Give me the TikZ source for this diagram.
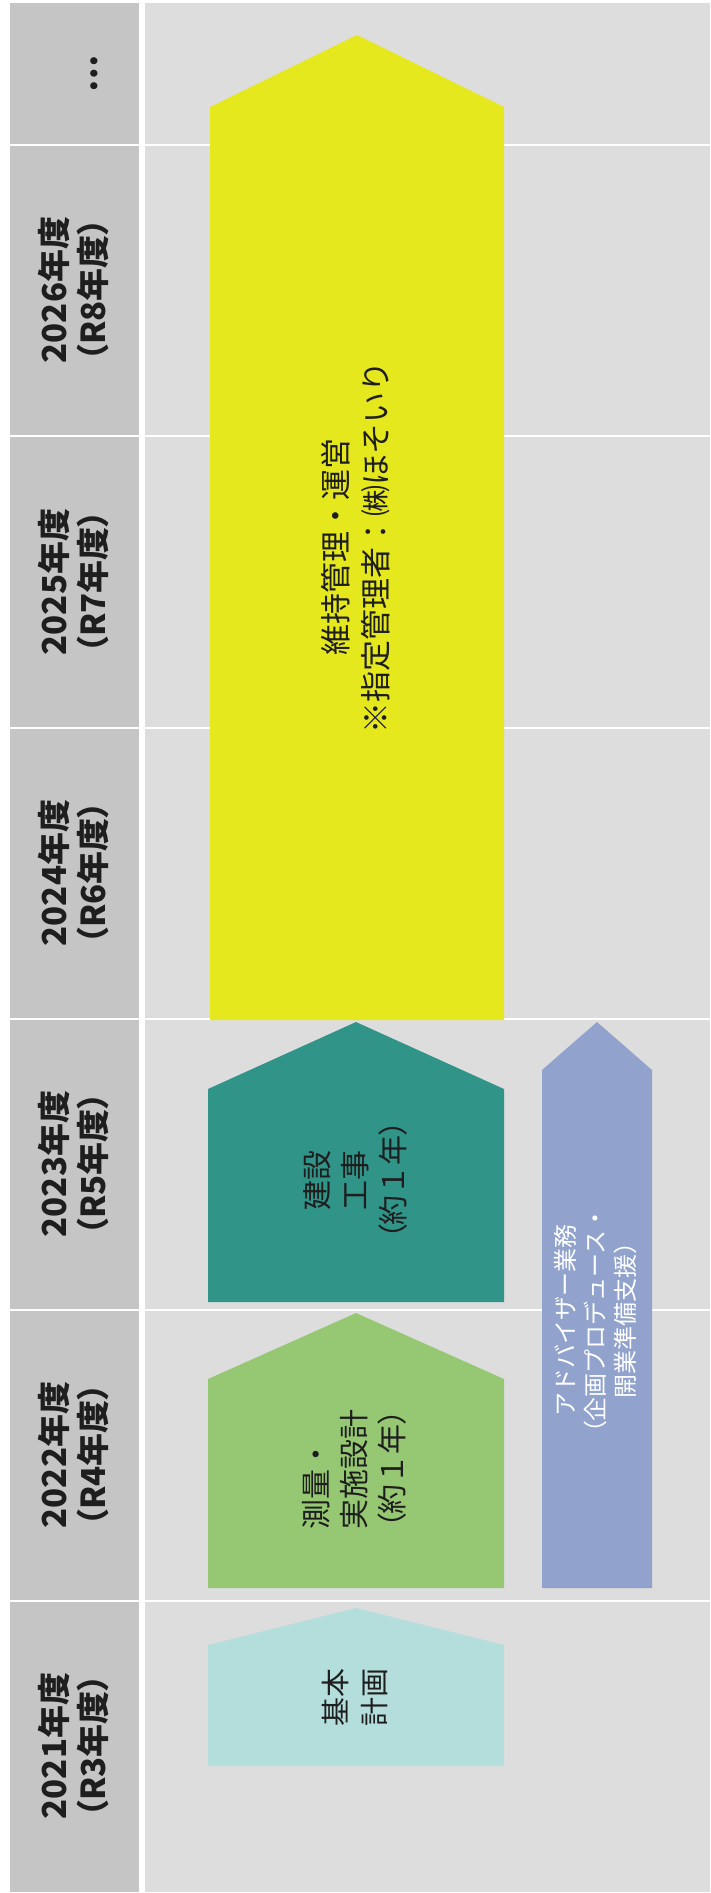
\documentclass[tikz,border=0pt]{standalone}
\usepackage{fontspec}
\setmainfont{Noto Sans CJK JP}
\newfontfamily\jpp{Noto Sans CJK JP}[RawFeature={+palt}]
\newcommand\Lpa{{\jpp （}}
\newcommand\Rpa{{\jpp ）}}
\definecolor{colL}{RGB}{197,197,197}
\definecolor{colR}{RGB}{221,221,221}
\definecolor{yel}{RGB}{230,232,30}
\definecolor{teal2}{RGB}{48,148,136}
\definecolor{grn}{RGB}{150,200,115}
\definecolor{cyn}{RGB}{180,222,220}
\definecolor{blu}{RGB}{145,163,204}
\definecolor{ink}{RGB}{30,30,30}
\tikzset{
  yearlbl/.style={rotate=90, align=center, text=ink, inner sep=0pt,
    font=\jpp\bfseries\fontsize{33}{39}\selectfont},
  boxtext/.style={rotate=90, align=center, text=ink, inner sep=0pt},
  sep/.style={draw=white, line width=2.5pt}
}
\begin{document}
\begin{tikzpicture}[x=1pt,y=-1pt]
\useasboundingbox (0,0) rectangle (710,1893);
\fill[white] (0,0) rectangle (710,1893);
\fill[colL] (10,3) rectangle (139,1892);
\fill[colR] (145,3) rectangle (710,1892);
\foreach \yy in {145,436,728,1019,1310,1601}
  \draw[sep] (10,\yy) -- (710,\yy);
% arrows
\fill[yel] (210,1020) -- (210,107) -- (357,35) -- (504,107) -- (504,1020) -- cycle;
\fill[teal2] (208,1302) -- (208,1089) -- (356,1022) -- (504,1089) -- (504,1302) -- cycle;
\fill[grn] (208,1588) -- (208,1379) -- (356,1313) -- (504,1379) -- (504,1588) -- cycle;
\fill[cyn] (208,1766) -- (208,1645) -- (356,1608) -- (504,1645) -- (504,1766) -- cycle;
\fill[blu] (542,1588) -- (542,1070) -- (597,1022) -- (652,1070) -- (652,1588) -- cycle;
% year labels
\node[yearlbl] (dots) at (94,74) {…};
\node[yearlbl] (y26) at (74,290) {2026年度\\（R8年度）};
\node[yearlbl] (y25) at (74,582) {2025年度\\（R7年度）};
\node[yearlbl] (y24) at (74,873) {2024年度\\（R6年度）};
\node[yearlbl] (y23) at (74,1164) {2023年度\\（R5年度）};
\node[yearlbl] (y22) at (74,1455) {2022年度\\（R4年度）};
\node[yearlbl] (y21) at (74,1746) {2021年度\\（R3年度）};
% box texts
\node[boxtext, font=\fontsize{31}{40}\selectfont] (ops) at (356,547)
  {維持管理・運営\\※指定管理者：㈱ほそいり};
\node[boxtext, font=\fontsize{30}{38}\selectfont] (build) at (355,1180)
  {建設\\工事\\\Lpa 約１年\Rpa};
\node[boxtext, align=left, font=\fontsize{30}{38}\selectfont] (survey) at (354,1469)
  {測量・\\実施設計\\\Lpa 約１年\Rpa};
\node[boxtext, font=\fontsize{29}{39}\selectfont] (plan) at (355,1697)
  {基本\\計画};
\node[boxtext, text=white, font=\fontsize{24}{30}\selectfont] (adv) at (596,1320)
  {アドバイザー業務\\\Lpa 企画プロデュース・\\開業準備支援\Rpa};
\end{tikzpicture}
\end{document}
